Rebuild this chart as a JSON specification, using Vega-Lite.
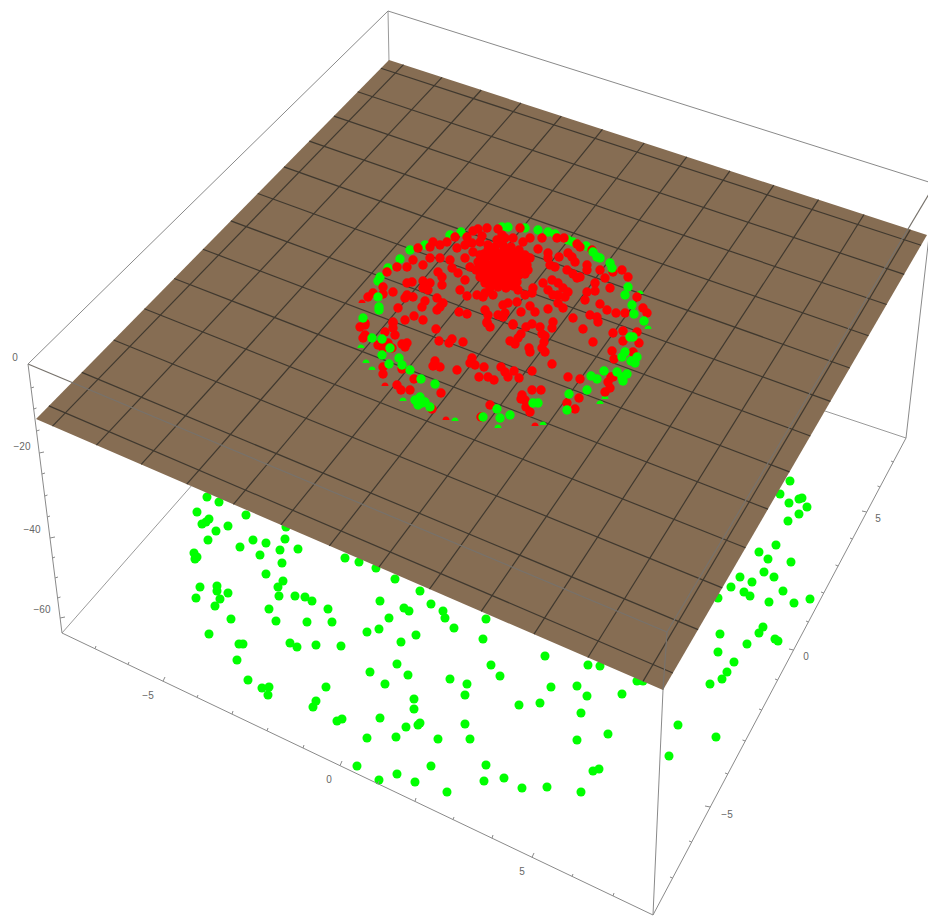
{"$schema":"https://vega.github.io/schema/vega-lite/v6.json","width":928,"height":920,"padding":0,"autosize":{"type":"fit","contains":"padding"},"background":"white","config":{"view":{"stroke":null}},
"datasets":{
"back":[{"x":62,"y":633,"x2":200,"y2":476},{"x":906,"y":438,"x2":780,"y2":396},{"x":388,"y":11,"x2":389,"y2":62}],
"below":[{"x":207,"y":497},{"x":219,"y":502},{"x":197,"y":512},{"x":246,"y":515},{"x":209,"y":519},{"x":206,"y":522},{"x":202,"y":524},{"x":228,"y":526},{"x":216,"y":531},{"x":208,"y":540},{"x":253,"y":540},{"x":266,"y":543},{"x":285,"y":539},{"x":286,"y":527},{"x":240,"y":547},{"x":280,"y":550},{"x":298,"y":549},{"x":260,"y":555},{"x":194,"y":553},{"x":197,"y":557},{"x":195,"y":559},{"x":282,"y":563},{"x":345,"y":558},{"x":359,"y":562},{"x":376,"y":568},{"x":395,"y":579},{"x":266,"y":574},{"x":283,"y":581},{"x":278,"y":587},{"x":200,"y":587},{"x":217,"y":586},{"x":217,"y":591},{"x":228,"y":593},{"x":196,"y":598},{"x":220,"y":599},{"x":215,"y":606},{"x":279,"y":596},{"x":295,"y":596},{"x":305,"y":597},{"x":312,"y":601},{"x":328,"y":609},{"x":269,"y":609},{"x":231,"y":619},{"x":276,"y":621},{"x":307,"y":622},{"x":332,"y":622},{"x":380,"y":601},{"x":420,"y":591},{"x":431,"y":604},{"x":404,"y":608},{"x":409,"y":611},{"x":443,"y":611},{"x":445,"y":618},{"x":454,"y":628},{"x":389,"y":618},{"x":379,"y":629},{"x":367,"y":632},{"x":416,"y":635},{"x":401,"y":642},{"x":209,"y":634},{"x":239,"y":644},{"x":243,"y":644},{"x":290,"y":643},{"x":297,"y":647},{"x":316,"y":645},{"x":341,"y":646},{"x":483,"y":639},{"x":237,"y":660},{"x":397,"y":664},{"x":370,"y":672},{"x":408,"y":675},{"x":491,"y":665},{"x":248,"y":680},{"x":262,"y":688},{"x":269,"y":687},{"x":268,"y":695},{"x":326,"y":687},{"x":385,"y":684},{"x":450,"y":679},{"x":467,"y":684},{"x":465,"y":695},{"x":414,"y":699},{"x":414,"y":709},{"x":316,"y":701},{"x":313,"y":707},{"x":380,"y":718},{"x":337,"y":721},{"x":342,"y":719},{"x":420,"y":723},{"x":418,"y":725},{"x":406,"y":727},{"x":465,"y":724},{"x":367,"y":738},{"x":396,"y":737},{"x":438,"y":739},{"x":470,"y":739},{"x":357,"y":766},{"x":431,"y":766},{"x":486,"y":765},{"x":397,"y":774},{"x":379,"y":780},{"x":415,"y":782},{"x":484,"y":781},{"x":447,"y":792},{"x":486,"y":619},{"x":545,"y":656},{"x":588,"y":665},{"x":600,"y":666},{"x":500,"y":676},{"x":637,"y":681},{"x":643,"y":681},{"x":551,"y":687},{"x":577,"y":686},{"x":587,"y":696},{"x":622,"y":694},{"x":519,"y":705},{"x":540,"y":703},{"x":581,"y":713},{"x":577,"y":740},{"x":608,"y":734},{"x":504,"y":778},{"x":522,"y":788},{"x":547,"y":787},{"x":593,"y":771},{"x":599,"y":769},{"x":581,"y":792},{"x":720,"y":634},{"x":718,"y":652},{"x":734,"y":662},{"x":727,"y":672},{"x":722,"y":679},{"x":710,"y":684},{"x":678,"y":725},{"x":716,"y":737},{"x":669,"y":756},{"x":790,"y":481},{"x":780,"y":494},{"x":802,"y":498},{"x":799,"y":499},{"x":789,"y":503},{"x":807,"y":507},{"x":799,"y":514},{"x":788,"y":521},{"x":776,"y":545},{"x":759,"y":552},{"x":768,"y":559},{"x":791,"y":562},{"x":764,"y":572},{"x":774,"y":577},{"x":740,"y":577},{"x":752,"y":582},{"x":731,"y":587},{"x":744,"y":592},{"x":750,"y":596},{"x":783,"y":591},{"x":769,"y":602},{"x":794,"y":603},{"x":810,"y":599},{"x":718,"y":598},{"x":763,"y":627},{"x":759,"y":633},{"x":775,"y":639},{"x":778,"y":641},{"x":747,"y":644}],
"plane":[{"x":36,"y":419,"y2":419},{"x":389,"y":60,"y2":571.6},{"x":663,"y":149.1,"y2":690},{"x":927,"y":235,"y2":235}],
"grid":[{"x":52.5,"y":426.1,"x2":403.5,"y2":64.7},{"x":96.4,"y":445.1,"x2":442,"y2":77.3},{"x":141.2,"y":464.4,"x2":481.2,"y2":90},{"x":186.8,"y":484.2,"x2":520.9,"y2":102.9},{"x":233.4,"y":504.3,"x2":561.3,"y2":116.1},{"x":280.9,"y":524.9,"x2":602.4,"y2":129.4},{"x":329.4,"y":545.8,"x2":644.2,"y2":143},{"x":378.9,"y":567.2,"x2":686.7,"y2":156.8},{"x":429.5,"y":589.1,"x2":729.9,"y2":170.9},{"x":481.2,"y":611.4,"x2":773.8,"y2":185.2},{"x":534,"y":634.2,"x2":818.5,"y2":199.7},{"x":587.9,"y":657.5,"x2":864,"y2":214.5},{"x":643,"y":681.4,"x2":910.3,"y2":229.6},{"x":48.9,"y":405.9,"x2":672.9,"y2":673},{"x":81.8,"y":372.4,"x2":698.1,"y2":629.6},{"x":113.7,"y":340,"x2":722.3,"y2":587.9},{"x":144.4,"y":308.7,"x2":745.5,"y2":547.8},{"x":174.2,"y":278.5,"x2":768,"y2":509.1},{"x":202.9,"y":249.2,"x2":789.5,"y2":471.9},{"x":230.8,"y":220.9,"x2":810.4,"y2":436},{"x":257.8,"y":193.5,"x2":830.4,"y2":401.4},{"x":283.9,"y":166.9,"x2":849.8,"y2":368},{"x":309.3,"y":141.1,"x2":868.5,"y2":335.7},{"x":333.9,"y":116.1,"x2":886.6,"y2":304.5},{"x":357.7,"y":91.8,"x2":904.2,"y2":274.4},{"x":380.9,"y":68.2,"x2":921.1,"y2":245.2}],
"caps":[{"x":361,"y":348,"series":"g"},{"x":366,"y":363,"series":"g"},{"x":372,"y":370,"series":"g"},{"x":385,"y":386,"series":"r"},{"x":403,"y":401,"series":"g"},{"x":446,"y":420,"series":"r"},{"x":455,"y":421,"series":"g"},{"x":498,"y":428,"series":"g"},{"x":543,"y":425,"series":"g"},{"x":605,"y":399,"series":"g"},{"x":600,"y":404,"series":"g"},{"x":648,"y":329,"series":"g"},{"x":359,"y":329,"series":"g"},{"x":362,"y":303,"series":"r"},{"x":640,"y":294,"series":"g"},{"x":535,"y":426,"series":"r"}],
"cloud":[{"x":461,"y":232,"series":"g"},{"x":450,"y":235,"series":"g"},{"x":425,"y":245,"series":"g"},{"x":410,"y":250,"series":"g"},{"x":400,"y":259,"series":"g"},{"x":388,"y":268,"series":"g"},{"x":380,"y":277,"series":"g"},{"x":378,"y":281,"series":"g"},{"x":502,"y":227,"series":"g"},{"x":508,"y":227,"series":"g"},{"x":525,"y":228,"series":"g"},{"x":538,"y":230,"series":"g"},{"x":548,"y":232,"series":"g"},{"x":555,"y":234,"series":"g"},{"x":568,"y":240,"series":"g"},{"x":573,"y":242,"series":"g"},{"x":586,"y":246,"series":"g"},
{"x":520,"y":228,"series":"r"},{"x":478,"y":229,"series":"r"},{"x":487,"y":228,"series":"r"},{"x":498,"y":229,"series":"r"},{"x":473,"y":231,"series":"r"},{"x":467,"y":237,"series":"r"},{"x":455,"y":237,"series":"r"},{"x":502,"y":235,"series":"r"},{"x":530,"y":238,"series":"r"},{"x":542,"y":238,"series":"r"},{"x":557,"y":238,"series":"r"},{"x":564,"y":238,"series":"r"},{"x":577,"y":244,"series":"r"},{"x":580,"y":247,"series":"r"},{"x":592,"y":250,"series":"r"},{"x":433,"y":242,"series":"r"},{"x":430,"y":247,"series":"r"},{"x":440,"y":245,"series":"r"},{"x":447,"y":242,"series":"r"},{"x":457,"y":248,"series":"r"},{"x":465,"y":245,"series":"r"},{"x":418,"y":248,"series":"r"},{"x":480,"y":242,"series":"r"},{"x":473,"y":252,"series":"r"},{"x":488,"y":245,"series":"r"},{"x":497,"y":240,"series":"r"},{"x":513,"y":238,"series":"r"},{"x":523,"y":242,"series":"r"},{"x":538,"y":249,"series":"r"},{"x":548,"y":253,"series":"r"},{"x":559,"y":257,"series":"r"},{"x":568,"y":253,"series":"r"},{"x":572,"y":257,"series":"r"},{"x":548,"y":258,"series":"r"},{"x":575,"y":262,"series":"r"},{"x":550,"y":265,"series":"r"},{"x":555,"y":267,"series":"r"},{"x":587,"y":265,"series":"r"},{"x":587,"y":270,"series":"r"},{"x":600,"y":270,"series":"r"},{"x":605,"y":278,"series":"r"},{"x":613,"y":272,"series":"r"},{"x":622,"y":270,"series":"r"},{"x":628,"y":277,"series":"r"},{"x":567,"y":270,"series":"r"},{"x":580,"y":277,"series":"r"},{"x":573,"y":274,"series":"r"},{"x":577,"y":278,"series":"r"},{"x":595,"y":283,"series":"r"},{"x":610,"y":288,"series":"r"},{"x":637,"y":297,"series":"r"},{"x":643,"y":308,"series":"r"},{"x":647,"y":313,"series":"r"},{"x":587,"y":292,"series":"r"},{"x":595,"y":291,"series":"r"},{"x":585,"y":300,"series":"r"},{"x":600,"y":304,"series":"r"},{"x":607,"y":310,"series":"r"},{"x":616,"y":313,"series":"r"},{"x":625,"y":313,"series":"r"},{"x":590,"y":315,"series":"r"},{"x":597,"y":317,"series":"r"},{"x":573,"y":318,"series":"r"},{"x":430,"y":258,"series":"r"},{"x":440,"y":258,"series":"r"},{"x":450,"y":260,"series":"r"},{"x":465,"y":258,"series":"r"},{"x":413,"y":260,"series":"r"},{"x":407,"y":267,"series":"r"},{"x":397,"y":267,"series":"r"},{"x":387,"y":272,"series":"r"},{"x":423,"y":265,"series":"r"},{"x":452,"y":268,"series":"r"},{"x":458,"y":273,"series":"r"},{"x":470,"y":267,"series":"r"},{"x":438,"y":272,"series":"r"},{"x":442,"y":277,"series":"r"},{"x":465,"y":280,"series":"r"},{"x":407,"y":283,"series":"r"},{"x":412,"y":282,"series":"r"},{"x":423,"y":281,"series":"r"},{"x":430,"y":283,"series":"r"},{"x":423,"y":288,"series":"r"},{"x":428,"y":290,"series":"r"},{"x":442,"y":285,"series":"r"},{"x":460,"y":290,"series":"r"},{"x":467,"y":296,"series":"r"},{"x":383,"y":287,"series":"r"},{"x":383,"y":294,"series":"r"},{"x":373,"y":293,"series":"r"},{"x":368,"y":297,"series":"r"},{"x":393,"y":292,"series":"r"},{"x":407,"y":295,"series":"r"},{"x":413,"y":297,"series":"r"},{"x":405,"y":298,"series":"r"},{"x":437,"y":298,"series":"r"},{"x":443,"y":303,"series":"r"},{"x":440,"y":307,"series":"r"},{"x":437,"y":310,"series":"r"},{"x":422,"y":307,"series":"r"},{"x":425,"y":301,"series":"r"},{"x":398,"y":308,"series":"r"},{"x":414,"y":316,"series":"r"},{"x":405,"y":320,"series":"r"},{"x":423,"y":320,"series":"r"},{"x":393,"y":322,"series":"r"},{"x":365,"y":323,"series":"r"},{"x":459,"y":312,"series":"r"},{"x":467,"y":314,"series":"r"},{"x":477,"y":295,"series":"r"},{"x":483,"y":297,"series":"r"},{"x":485,"y":293,"series":"r"},{"x":493,"y":295,"series":"r"},{"x":503,"y":305,"series":"r"},{"x":508,"y":303,"series":"r"},{"x":517,"y":302,"series":"r"},{"x":525,"y":295,"series":"r"},{"x":533,"y":288,"series":"r"},{"x":532,"y":293,"series":"r"},{"x":518,"y":290,"series":"r"},{"x":543,"y":283,"series":"r"},{"x":552,"y":280,"series":"r"},{"x":558,"y":283,"series":"r"},{"x":548,"y":290,"series":"r"},{"x":563,"y":288,"series":"r"},{"x":568,"y":292,"series":"r"},{"x":565,"y":297,"series":"r"},{"x":553,"y":295,"series":"r"},{"x":558,"y":295,"series":"r"},{"x":558,"y":303,"series":"r"},{"x":563,"y":308,"series":"r"},{"x":485,"y":310,"series":"r"},{"x":488,"y":315,"series":"r"},{"x":498,"y":315,"series":"r"},{"x":505,"y":313,"series":"r"},{"x":503,"y":317,"series":"r"},{"x":521,"y":312,"series":"r"},{"x":530,"y":306,"series":"r"},{"x":535,"y":312,"series":"r"},{"x":548,"y":309,"series":"r"},{"x":487,"y":322,"series":"r"},{"x":513,"y":324,"series":"r"},{"x":480,"y":255,"series":"r"},{"x":488,"y":250,"series":"r"},{"x":495,"y":247,"series":"r"},{"x":503,"y":245,"series":"r"},{"x":511,"y":247,"series":"r"},{"x":519,"y":250,"series":"r"},{"x":525,"y":255,"series":"r"},{"x":478,"y":262,"series":"r"},{"x":485,"y":260,"series":"r"},{"x":492,"y":256,"series":"r"},{"x":500,"y":254,"series":"r"},{"x":508,"y":255,"series":"r"},{"x":516,"y":257,"series":"r"},{"x":524,"y":262,"series":"r"},{"x":530,"y":258,"series":"r"},{"x":476,"y":270,"series":"r"},{"x":483,"y":268,"series":"r"},{"x":490,"y":265,"series":"r"},{"x":498,"y":262,"series":"r"},{"x":506,"y":263,"series":"r"},{"x":514,"y":264,"series":"r"},{"x":522,"y":268,"series":"r"},{"x":528,"y":270,"series":"r"},{"x":480,"y":277,"series":"r"},{"x":488,"y":274,"series":"r"},{"x":495,"y":271,"series":"r"},{"x":503,"y":271,"series":"r"},{"x":511,"y":272,"series":"r"},{"x":519,"y":275,"series":"r"},{"x":485,"y":283,"series":"r"},{"x":493,"y":280,"series":"r"},{"x":501,"y":279,"series":"r"},{"x":509,"y":280,"series":"r"},{"x":517,"y":282,"series":"r"},{"x":490,"y":288,"series":"r"},{"x":498,"y":287,"series":"r"},{"x":506,"y":288,"series":"r"},{"x":505,"y":238,"series":"r"},{"x":472,"y":243,"series":"r"},{"x":482,"y":236,"series":"r"},{"x":484,"y":254,"series":"r"},{"x":496,"y":252,"series":"r"},{"x":504,"y":250,"series":"r"},{"x":512,"y":252,"series":"r"},{"x":520,"y":254,"series":"r"},{"x":482,"y":264,"series":"r"},{"x":494,"y":260,"series":"r"},{"x":502,"y":258,"series":"r"},{"x":510,"y":260,"series":"r"},{"x":518,"y":261,"series":"r"},{"x":527,"y":265,"series":"r"},{"x":480,"y":272,"series":"r"},{"x":486,"y":271,"series":"r"},{"x":493,"y":268,"series":"r"},{"x":501,"y":267,"series":"r"},{"x":509,"y":268,"series":"r"},{"x":517,"y":270,"series":"r"},{"x":525,"y":274,"series":"r"},{"x":484,"y":279,"series":"r"},{"x":491,"y":277,"series":"r"},{"x":499,"y":275,"series":"r"},{"x":507,"y":276,"series":"r"},{"x":515,"y":278,"series":"r"},{"x":489,"y":284,"series":"r"},{"x":497,"y":283,"series":"r"},{"x":505,"y":284,"series":"r"},{"x":513,"y":286,"series":"r"},
{"x":365,"y":325,"series":"r"},{"x":360,"y":327,"series":"r"},{"x":393,"y":323,"series":"r"},{"x":393,"y":328,"series":"r"},{"x":395,"y":335,"series":"r"},{"x":385,"y":332,"series":"r"},{"x":365,"y":335,"series":"r"},{"x":363,"y":338,"series":"r"},{"x":378,"y":345,"series":"r"},{"x":388,"y":343,"series":"r"},{"x":392,"y":348,"series":"r"},{"x":383,"y":348,"series":"r"},{"x":402,"y":344,"series":"r"},{"x":407,"y":343,"series":"r"},{"x":405,"y":347,"series":"r"},{"x":436,"y":329,"series":"r"},{"x":439,"y":341,"series":"r"},{"x":449,"y":343,"series":"r"},{"x":452,"y":339,"series":"r"},{"x":463,"y":342,"series":"r"},{"x":487,"y":323,"series":"r"},{"x":490,"y":327,"series":"r"},{"x":513,"y":325,"series":"r"},{"x":526,"y":327,"series":"r"},{"x":532,"y":324,"series":"r"},{"x":540,"y":327,"series":"r"},{"x":552,"y":328,"series":"r"},{"x":553,"y":322,"series":"r"},{"x":542,"y":334,"series":"r"},{"x":545,"y":336,"series":"r"},{"x":521,"y":334,"series":"r"},{"x":518,"y":338,"series":"r"},{"x":510,"y":341,"series":"r"},{"x":515,"y":344,"series":"r"},{"x":544,"y":342,"series":"r"},{"x":529,"y":348,"series":"r"},{"x":530,"y":352,"series":"r"},{"x":542,"y":348,"series":"r"},{"x":545,"y":352,"series":"r"},{"x":583,"y":329,"series":"r"},{"x":593,"y":342,"series":"r"},{"x":613,"y":333,"series":"r"},{"x":623,"y":331,"series":"r"},{"x":637,"y":332,"series":"r"},{"x":623,"y":341,"series":"r"},{"x":639,"y":343,"series":"r"},{"x":612,"y":351,"series":"r"},{"x":633,"y":352,"series":"r"},{"x":614,"y":359,"series":"r"},{"x":598,"y":322,"series":"r"},{"x":435,"y":361,"series":"r"},{"x":433,"y":366,"series":"r"},{"x":440,"y":367,"series":"r"},{"x":457,"y":370,"series":"r"},{"x":472,"y":358,"series":"r"},{"x":470,"y":363,"series":"r"},{"x":475,"y":365,"series":"r"},{"x":484,"y":367,"series":"r"},{"x":479,"y":377,"series":"r"},{"x":488,"y":377,"series":"r"},{"x":494,"y":380,"series":"r"},{"x":501,"y":367,"series":"r"},{"x":505,"y":372,"series":"r"},{"x":508,"y":377,"series":"r"},{"x":514,"y":371,"series":"r"},{"x":519,"y":378,"series":"r"},{"x":532,"y":371,"series":"r"},{"x":552,"y":364,"series":"r"},{"x":568,"y":377,"series":"r"},{"x":580,"y":379,"series":"r"},{"x":383,"y":367,"series":"r"},{"x":383,"y":374,"series":"r"},{"x":402,"y":369,"series":"r"},{"x":414,"y":379,"series":"r"},{"x":397,"y":385,"series":"r"},{"x":401,"y":390,"series":"r"},{"x":410,"y":390,"series":"r"},{"x":441,"y":393,"series":"r"},{"x":490,"y":405,"series":"r"},{"x":532,"y":390,"series":"r"},{"x":541,"y":390,"series":"r"},{"x":522,"y":395,"series":"r"},{"x":521,"y":399,"series":"r"},{"x":525,"y":400,"series":"r"},{"x":526,"y":407,"series":"r"},{"x":530,"y":412,"series":"r"},{"x":567,"y":403,"series":"r"},{"x":575,"y":409,"series":"r"},{"x":579,"y":398,"series":"r"},{"x":611,"y":377,"series":"r"},{"x":613,"y":377,"series":"r"},{"x":608,"y":382,"series":"r"},{"x":610,"y":388,"series":"r"},{"x":605,"y":392,"series":"r"},{"x":432,"y":409,"series":"r"},{"x":481,"y":417,"series":"r"},
{"x":593,"y":252,"series":"g"},{"x":597,"y":257,"series":"g"},{"x":600,"y":258,"series":"g"},{"x":610,"y":263,"series":"g"},{"x":612,"y":268,"series":"g"},{"x":628,"y":287,"series":"g"},{"x":625,"y":295,"series":"g"},{"x":632,"y":305,"series":"g"},{"x":634,"y":314,"series":"g"},{"x":644,"y":321,"series":"g"},{"x":378,"y":297,"series":"g"},{"x":379,"y":307,"series":"g"},{"x":379,"y":310,"series":"g"},{"x":363,"y":318,"series":"g"},{"x":372,"y":338,"series":"g"},{"x":382,"y":339,"series":"g"},{"x":390,"y":348,"series":"g"},{"x":382,"y":355,"series":"g"},{"x":389,"y":364,"series":"g"},{"x":399,"y":358,"series":"g"},{"x":402,"y":365,"series":"g"},{"x":410,"y":370,"series":"g"},{"x":421,"y":379,"series":"g"},{"x":435,"y":384,"series":"g"},{"x":415,"y":400,"series":"g"},{"x":420,"y":397,"series":"g"},{"x":425,"y":402,"series":"g"},{"x":422,"y":403,"series":"g"},{"x":430,"y":407,"series":"g"},{"x":418,"y":405,"series":"g"},{"x":497,"y":409,"series":"g"},{"x":510,"y":415,"series":"g"},{"x":500,"y":418,"series":"g"},{"x":483,"y":417,"series":"g"},{"x":533,"y":403,"series":"g"},{"x":538,"y":403,"series":"g"},{"x":569,"y":394,"series":"g"},{"x":587,"y":390,"series":"g"},{"x":567,"y":410,"series":"g"},{"x":591,"y":376,"series":"g"},{"x":597,"y":379,"series":"g"},{"x":604,"y":371,"series":"g"},{"x":617,"y":372,"series":"g"},{"x":627,"y":374,"series":"g"},{"x":622,"y":377,"series":"g"},{"x":623,"y":381,"series":"g"},{"x":630,"y":337,"series":"g"},{"x":633,"y":337,"series":"g"},{"x":625,"y":352,"series":"g"},{"x":622,"y":357,"series":"g"},{"x":637,"y":357,"series":"g"},{"x":631,"y":361,"series":"g"},{"x":635,"y":363,"series":"g"}],
"over":[{"x":28,"y":364,"x2":667,"y2":632},{"x":667,"y":632,"x2":935,"y2":184},{"x":667,"y":632,"x2":663,"y2":690}],
"box":[{"x":28,"y":364,"x2":388,"y2":11},{"x":388,"y":11,"x2":935,"y2":184},{"x":935,"y":184,"x2":906,"y2":438},{"x":28,"y":364,"x2":62,"y2":633},{"x":62,"y":633,"x2":653,"y2":915},{"x":653,"y":915,"x2":906,"y2":438},{"x":663,"y":690,"x2":653,"y2":915},
{"x":95,"y":648.7,"x2":96,"y2":646},{"x":128,"y":664.5,"x2":129,"y2":662},{"x":163,"y":681.2,"x2":165,"y2":677},{"x":197,"y":697.4,"x2":198,"y2":695},{"x":232,"y":714.1,"x2":233,"y2":711},{"x":267,"y":730.8,"x2":268,"y2":728},{"x":303,"y":748,"x2":304,"y2":745},{"x":340,"y":765.7,"x2":342,"y2":761},{"x":378,"y":783.8,"x2":379,"y2":781},{"x":415,"y":801.4,"x2":416,"y2":798},{"x":453,"y":819.6,"x2":454,"y2":817},{"x":492,"y":838.2,"x2":493,"y2":835},{"x":532,"y":857.3,"x2":534,"y2":853},{"x":572,"y":876.4,"x2":573,"y2":874},{"x":613,"y":896,"x2":614,"y2":893},
{"x":672.6,"y":878,"x2":670,"y2":877},{"x":691.7,"y":842,"x2":689,"y2":841},{"x":710.3,"y":807,"x2":705,"y2":806},{"x":727.8,"y":774,"x2":725,"y2":773},{"x":745.3,"y":741,"x2":742.5,"y2":740},{"x":761.7,"y":710,"x2":759,"y2":709},{"x":777.6,"y":680,"x2":775,"y2":679},{"x":793.6,"y":650,"x2":789,"y2":649},{"x":808.4,"y":622,"x2":806,"y2":621},{"x":823.8,"y":593,"x2":821,"y2":592},{"x":838.1,"y":566,"x2":835.5,"y2":565},{"x":852.4,"y":539,"x2":850,"y2":538},{"x":866.7,"y":512,"x2":862,"y2":511},{"x":880,"y":487,"x2":877.5,"y2":486},{"x":893.3,"y":462,"x2":891,"y2":461},
{"x":31,"y":388,"x2":34,"y2":387},{"x":33.7,"y":409,"x2":36.5,"y2":408},{"x":36.5,"y":431,"x2":39.5,"y2":430},{"x":39.2,"y":453,"x2":44,"y2":452},{"x":41.9,"y":474,"x2":45,"y2":473},{"x":44.7,"y":496,"x2":47.5,"y2":495},{"x":47.3,"y":517,"x2":50,"y2":516},{"x":50,"y":538,"x2":55,"y2":537},{"x":52.5,"y":558,"x2":55,"y2":557},{"x":55,"y":578,"x2":58,"y2":577},{"x":57.6,"y":598,"x2":60.5,"y2":597},{"x":60.1,"y":618,"x2":65,"y2":617}],
"labels":[{"x":15,"y":358,"t":"0"},{"x":22,"y":447,"t":"−20"},{"x":32,"y":530,"t":"−40"},{"x":42,"y":610,"t":"−60"},{"x":148,"y":696,"t":"−5"},{"x":329,"y":780,"t":"0"},{"x":522,"y":872,"t":"5"},{"x":727,"y":815,"t":"−5"},{"x":806,"y":657,"t":"0"},{"x":878,"y":519,"t":"5"}]
},
"encoding":{
"x":{"field":"x","type":"quantitative","axis":null,"scale":{"domain":[0,928],"nice":false,"zero":false}},
"y":{"field":"y","type":"quantitative","axis":null,"scale":{"domain":[920,0],"nice":false,"zero":false}}
},
"layer":[
{"data":{"name":"back"},"mark":{"type":"rule","color":"#9a9a9a","strokeWidth":1},"encoding":{"x2":{"field":"x2"},"y2":{"field":"y2"}}},
{"data":{"name":"below"},"mark":{"type":"point","shape":"circle","filled":true,"opacity":1,"size":82,"color":"#00ff00"}},
{"data":{"name":"plane"},"mark":{"type":"area","color":"#866d53","opacity":1,"line":false},"encoding":{"y2":{"field":"y2"}}},
{"data":{"name":"grid"},"mark":{"type":"rule","color":"#40392f","strokeWidth":1.2,"clip":true},"encoding":{"x2":{"field":"x2"},"y2":{"field":"y2"}}},
{"data":{"name":"over"},"mark":{"type":"rule","color":"#77726c","strokeWidth":1.2,"clip":true},"encoding":{"x2":{"field":"x2"},"y2":{"field":"y2"}}},
{"data":{"name":"caps"},"mark":{"type":"point","filled":true,"opacity":1,"size":50,"shape":"M -1 0 A 1 1 0 0 1 1 0 Z"},"encoding":{"color":{"field":"series","type":"nominal","legend":null,"scale":{"domain":["g","r"],"range":["#00ff00","#ff0000"]}}}},
{"data":{"name":"cloud"},"mark":{"type":"point","shape":"circle","filled":true,"opacity":1,"size":88},"encoding":{"color":{"field":"series","type":"nominal","legend":null,"scale":{"domain":["g","r"],"range":["#00ff00","#ff0000"]}}}},
{"data":{"name":"box"},"mark":{"type":"rule","color":"#8a8a8a","strokeWidth":1,"clip":true},"encoding":{"x2":{"field":"x2"},"y2":{"field":"y2"}}},
{"data":{"name":"labels"},"mark":{"type":"text","font":"Liberation Sans","fontSize":10,"color":"#666666","align":"center","baseline":"middle"},"encoding":{"text":{"field":"t","type":"nominal"}}}
]}
